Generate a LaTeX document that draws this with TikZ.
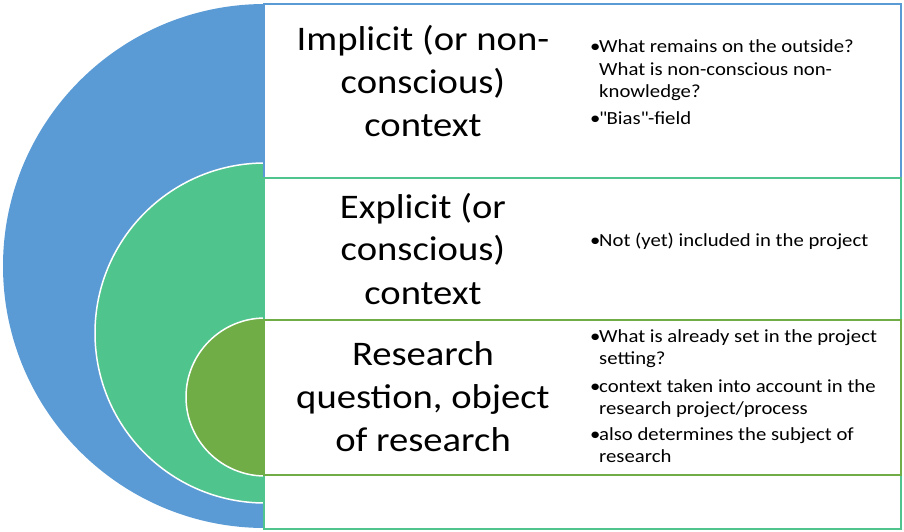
\documentclass[tikz,border=0pt]{standalone}
\usepackage{fontspec}
\setmainfont{Carlito}[FakeStretch=1.12]
\definecolor{cblue}{RGB}{91,155,213}
\definecolor{cgreen}{RGB}{79,196,140}
\definecolor{cdgreen}{RGB}{112,173,71}
\newcommand\titlefont{\fontsize{34.5}{43}\selectfont}
\newcommand\bulfont{\fontsize{18.5}{22.5}\selectfont}
\newcommand\titletext[1]{\parbox[t]{310pt}{\centering #1}}
\newcommand\bitem[1]{\parbox[t]{300pt}{\hangindent=9pt\hangafter=1\noindent\makebox[9pt][l]{\textbullet}#1}}
\tikzset{
  ring/.style={draw=white, line width=1.5pt},
  box/.style={line width=1.5pt, fill=white},
  titlenode/.style={anchor=base, inner sep=0pt, font=\titlefont},
  bulnode/.style={anchor=base west, inner sep=0pt, font=\bulfont},
}
\begin{document}
\begin{tikzpicture}[x=1pt,y=1pt]
\useasboundingbox (0,0) rectangle (904,531);
% nested half circles
\fill[cblue] (265,527) arc[start angle=90,end angle=270,radius=262] -- cycle;
\filldraw[ring, fill=cgreen] (265,368) arc[start angle=90,end angle=270,radius=170] -- cycle;
\filldraw[ring, fill=cdgreen] (265,213) arc[start angle=90,end angle=270,radius=79] -- cycle;
% rectangles
\draw[box, draw=cblue] (264,353) rectangle (901,527);
\draw[box, draw=cgreen] (264,2) rectangle (901,353);
\draw[box, draw=cdgreen] (264,56) rectangle (901,211);
% titles
\node[titlenode] (t1) at (423,480) {\titletext{Implicit (or non-\\conscious)\\context}};
\node[titlenode] (t2) at (423,313) {\titletext{Explicit (or\\conscious)\\context}};
\node[titlenode] (t3) at (423,166) {\titletext{Research\\question, object\\of research}};
% bullets
\node[bulnode] (b1) at (590,478) {\bitem{What remains on the outside?\newline What is non-conscious non-\newline knowledge?}};
\node[bulnode] (b2) at (590,406) {\bitem{\textquotedbl Bias\textquotedbl -field}};
\node[bulnode] (b3) at (590,285) {\bitem{Not (yet) included in the project}};
\node[bulnode] (b4) at (590,189) {\bitem{What is already set in the project\newline setting?}};
\node[bulnode] (b5) at (590,139) {\bitem{context taken into account in the\newline research project/process}};
\node[bulnode] (b6) at (590,91) {\bitem{also determines the subject of\newline research}};
\end{tikzpicture}
\end{document}
